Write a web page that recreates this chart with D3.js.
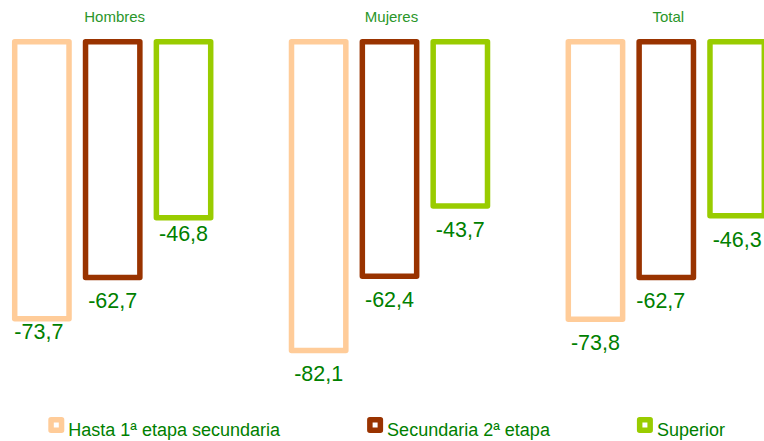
<!DOCTYPE html>
<html>
<head>
<meta charset="utf-8">
<script src="https://cdn.jsdelivr.net/npm/d3@7"></script>
<style>
  html, body { margin: 0; padding: 0; background: #ffffff; }
  svg { display: block; }
  text { font-family: "Liberation Sans", Arial, Helvetica, sans-serif; }
</style>
</head>
<body>
<svg id="chart" width="764" height="441"></svg>
<script>
// Categories (panels) and education levels
const groups = ["Hombres", "Mujeres", "Total"];
const series = ["Hasta 1ª etapa secundaria", "Secundaria 2ª etapa", "Superior"];

// Variation (%) per education level, one value per panel
const hastaPrimera = [-73.7, -82.1, -73.8];
const secundariaSegunda = [-62.7, -62.4, -62.7];
const superior = [-46.8, -43.7, -46.3];

const seriesValues = [hastaPrimera, secundariaSegunda, superior];
const colors = ["#FFCC99", "#993300", "#99CC00"];
const textGreen = "#008000";

const fmt = v => d3.format(".1f")(v).replace(".", ",").replace("−", "-");

const svg = d3.select("#chart");

// Panel and bar positioning
const x0 = d3.scaleBand().domain(groups).range([14.7, 14.7 + 3 * 276.8]).padding(0);
const x1 = d3.scaleBand().domain(series).range([0, 196]).paddingInner(0.233).paddingOuter(0);
const y = d3.scaleLinear().domain([0, -100]).range([41.7, 417.7]);

const rows = [];
groups.forEach((g, gi) => {
  series.forEach((s, si) => {
    rows.push({ group: g, series: s, si, value: seriesValues[si][gi] });
  });
});

// Hand-placed label adjustments (a few labels sit off their default spot)
const labelNudge = {
  "Hombres|0": { dx: -3, dy: -11 },
  "Hombres|2": { dx: 0, dy: -8 },
  "Total|1": { dx: -5.5, dy: 0 }
};

const strokeW = 5.5;

// Hollow bars
svg.append("g").selectAll("rect")
  .data(rows)
  .join("rect")
  .attr("x", d => x0(d.group) + x1(d.series))
  .attr("y", y(0))
  .attr("width", x1.bandwidth())
  .attr("height", d => y(d.value) - y(0))
  .attr("fill", "#ffffff")
  .attr("stroke", d => colors[d.si])
  .attr("stroke-width", strokeW)
  .attr("stroke-linejoin", "round");

// Value labels below each bar
svg.append("g").selectAll("text")
  .data(rows)
  .join("text")
  .attr("x", d => {
    const n = labelNudge[d.group + "|" + d.si] || { dx: 0, dy: 0 };
    return x0(d.group) + x1(d.series) + x1.bandwidth() / 2 + n.dx;
  })
  .attr("y", d => {
    const n = labelNudge[d.group + "|" + d.si] || { dx: 0, dy: 0 };
    return y(d.value) + 31 + n.dy;
  })
  .attr("text-anchor", "middle")
  .attr("font-size", 21.5)
  .attr("fill", textGreen)
  .text(d => fmt(d.value));

// Panel titles
svg.append("g").selectAll("text")
  .data(groups)
  .join("text")
  .attr("x", g => x0(g) + x1.range()[1] / 2 + 2)
  .attr("y", 22)
  .attr("text-anchor", "middle")
  .attr("font-size", 15)
  .attr("fill", "#2a962a")
  .text(g => g);

// Legend, items laid out left to right with equal gaps
const legend = svg.append("g");
let lx = 48.3;
const gap = 87;
const markerSize = 10.5;
series.forEach((s, si) => {
  const item = legend.append("g");
  item.append("rect")
    .attr("x", lx + strokeW / 2)
    .attr("y", 425 - markerSize / 2)
    .attr("width", markerSize)
    .attr("height", markerSize)
    .attr("fill", "#ffffff")
    .attr("stroke", colors[si])
    .attr("stroke-width", strokeW)
    .attr("stroke-linejoin", "round");
  const t = item.append("text")
    .attr("x", lx + markerSize + strokeW + 4)
    .attr("y", 435.7)
    .attr("font-size", 18)
    .attr("fill", textGreen)
    .text(s);
  const w = t.node().getComputedTextLength();
  lx = lx + markerSize + strokeW + 4 + w + gap;
});
</script>
</body>
</html>
